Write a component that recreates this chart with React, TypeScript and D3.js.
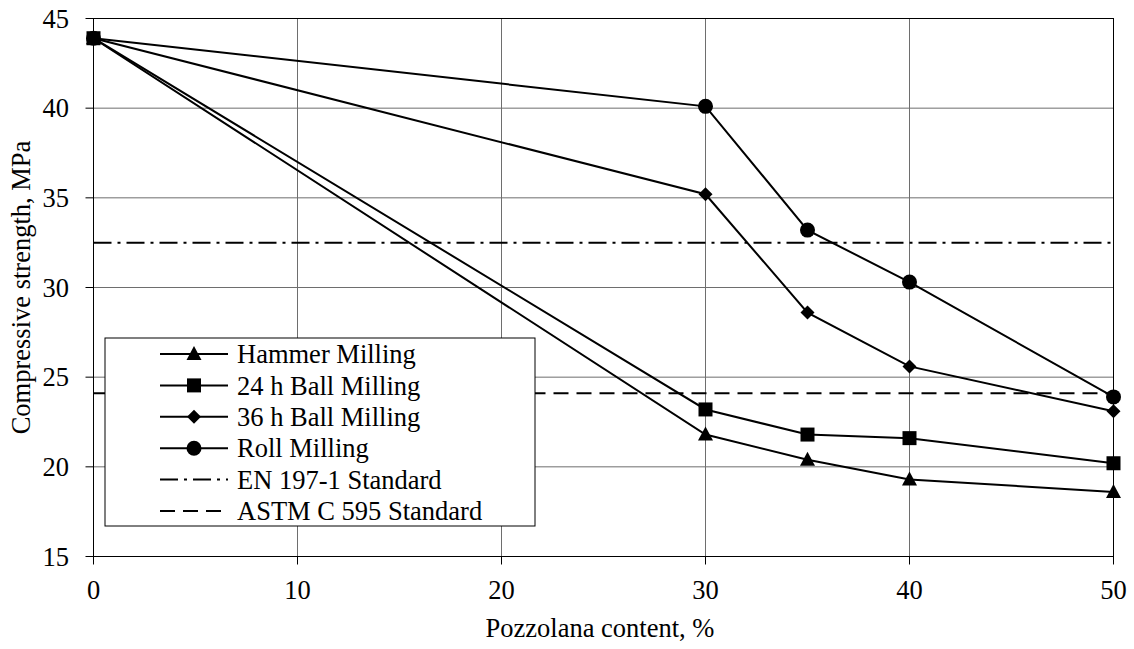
import React from "react";
import * as d3 from "d3";

const content = [0, 30, 35, 40, 50];
const hammer = [43.9, 21.8, 20.4, 19.3, 18.6];
const ball24 = [43.9, 23.2, 21.8, 21.6, 20.2];
const ball36 = [43.9, 35.2, 28.6, 25.6, 23.1];
const roll = [43.9, 40.1, 33.2, 30.3, 23.9];
const en197 = 32.5;
const astm = 24.1;
const xTicks = [0, 10, 20, 30, 40, 50];
const yTicks = [15, 20, 25, 30, 35, 40, 45];

const W = 1134;
const H = 649;
const left = 93.5;
const right = 1113.5;
const top = 18.5;
const bottom = 556.5;
const FONT = "Tinos";
const FS = 26.5;

const x = d3.scaleLinear().domain([0, 50]).range([left, right]);
const y = d3.scaleLinear().domain([15, 45]).range([bottom, top]);

const series = [
  { name: "Hammer Milling", values: hammer, marker: "triangle" },
  { name: "24 h Ball Milling", values: ball24, marker: "square" },
  { name: "36 h Ball Milling", values: ball36, marker: "diamond" },
  { name: "Roll Milling", values: roll, marker: "circle" },
];

function Marker({ type, cx, cy }: { type: string; cx: number; cy: number }) {
  if (type === "square") return <rect x={cx - 7} y={cy - 7} width={14} height={14} fill="#000" />;
  if (type === "circle") return <circle cx={cx} cy={cy} r={7.5} fill="#000" />;
  if (type === "diamond")
    return <path d={`M${cx},${cy - 7}L${cx + 7},${cy}L${cx},${cy + 7}L${cx - 7},${cy}Z`} fill="#000" />;
  return <path d={`M${cx},${cy - 8}L${cx + 7.5},${cy + 6}L${cx - 7.5},${cy + 6}Z`} fill="#000" />;
}

export default function App() {
  const line = d3
    .line<number>()
    .x((_, i) => x(content[i]))
    .y((d) => y(d));

  const legendRows = [
    ...series.map((s) => ({ name: s.name, marker: s.marker, dash: "" })),
    { name: "EN 197-1 Standard", marker: "", dash: "18,6,3,6" },
    { name: "ASTM C 595 Standard", marker: "", dash: "15,8" },
  ];
  const lx = 105;
  const ly = 338;
  const rowH = 31.4;

  return (
    <svg width={W} height={H} style={{ position: "absolute", left: 0, top: 0 }}>
      <rect width={W} height={H} fill="#fff" />
      {/* grid */}
      {yTicks.map((t) => (
        <line key={"gy" + t} x1={left} x2={right} y1={y(t)} y2={y(t)} stroke="#6e6e6e" strokeWidth={1} />
      ))}
      {xTicks.map((t) => (
        <line key={"gx" + t} x1={x(t)} x2={x(t)} y1={top} y2={bottom} stroke="#6e6e6e" strokeWidth={1} />
      ))}
      <rect x={left} y={top} width={right - left} height={bottom - top} fill="none" stroke="#000" strokeWidth={1} />
      {/* ticks */}
      {yTicks.map((t) => (
        <g key={"ty" + t}>
          <line x1={left - 8} x2={left} y1={y(t)} y2={y(t)} stroke="#000" />
          <text x={69} y={y(t)} dy="0.35em" textAnchor="end" fontSize={FS} fontFamily={FONT}>
            {t}
          </text>
        </g>
      ))}
      {xTicks.map((t) => (
        <g key={"tx" + t}>
          <line x1={x(t)} x2={x(t)} y1={bottom} y2={bottom + 8} stroke="#000" />
          <text x={x(t)} y={599} textAnchor="middle" fontSize={FS} fontFamily={FONT}>
            {t}
          </text>
        </g>
      ))}
      {/* standards */}
      <line x1={x(0)} x2={x(50)} y1={y(en197)} y2={y(en197)} stroke="#000" strokeWidth={2} strokeDasharray="18,6,3,6" />
      <line x1={x(0)} x2={x(50)} y1={y(astm)} y2={y(astm)} stroke="#000" strokeWidth={2} strokeDasharray="15,8" />
      {/* series */}
      {series.map((s) => (
        <g key={s.name}>
          <path d={line(s.values) || ""} fill="none" stroke="#000" strokeWidth={2} />
          {s.values.map((v, i) => (
            <Marker key={i} type={s.marker} cx={x(content[i])} cy={y(v)} />
          ))}
        </g>
      ))}
      {/* legend */}
      <rect x={lx} y={ly} width={430} height={188} fill="#fff" stroke="#000" strokeWidth={1} />
      {legendRows.map((r, i) => {
        const cy = ly + 16 + i * rowH;
        return (
          <g key={r.name}>
            <line x1={160} x2={228} y1={cy} y2={cy} stroke="#000" strokeWidth={2} strokeDasharray={r.dash || undefined} />
            {r.marker && <Marker type={r.marker} cx={194} cy={cy} />}
            <text x={237} y={cy} dy="0.35em" fontSize={FS} fontFamily={FONT}>
              {r.name}
            </text>
          </g>
        );
      })}
      {/* axis titles */}
      <text x={600} y={637} textAnchor="middle" fontSize={FS} fontFamily={FONT}>
        Pozzolana content, %
      </text>
      <text transform={`translate(30,${(top + bottom) / 2}) rotate(-90)`} textAnchor="middle" fontSize={FS} fontFamily={FONT}>
        Compressive strength, MPa
      </text>
    </svg>
  );
}
